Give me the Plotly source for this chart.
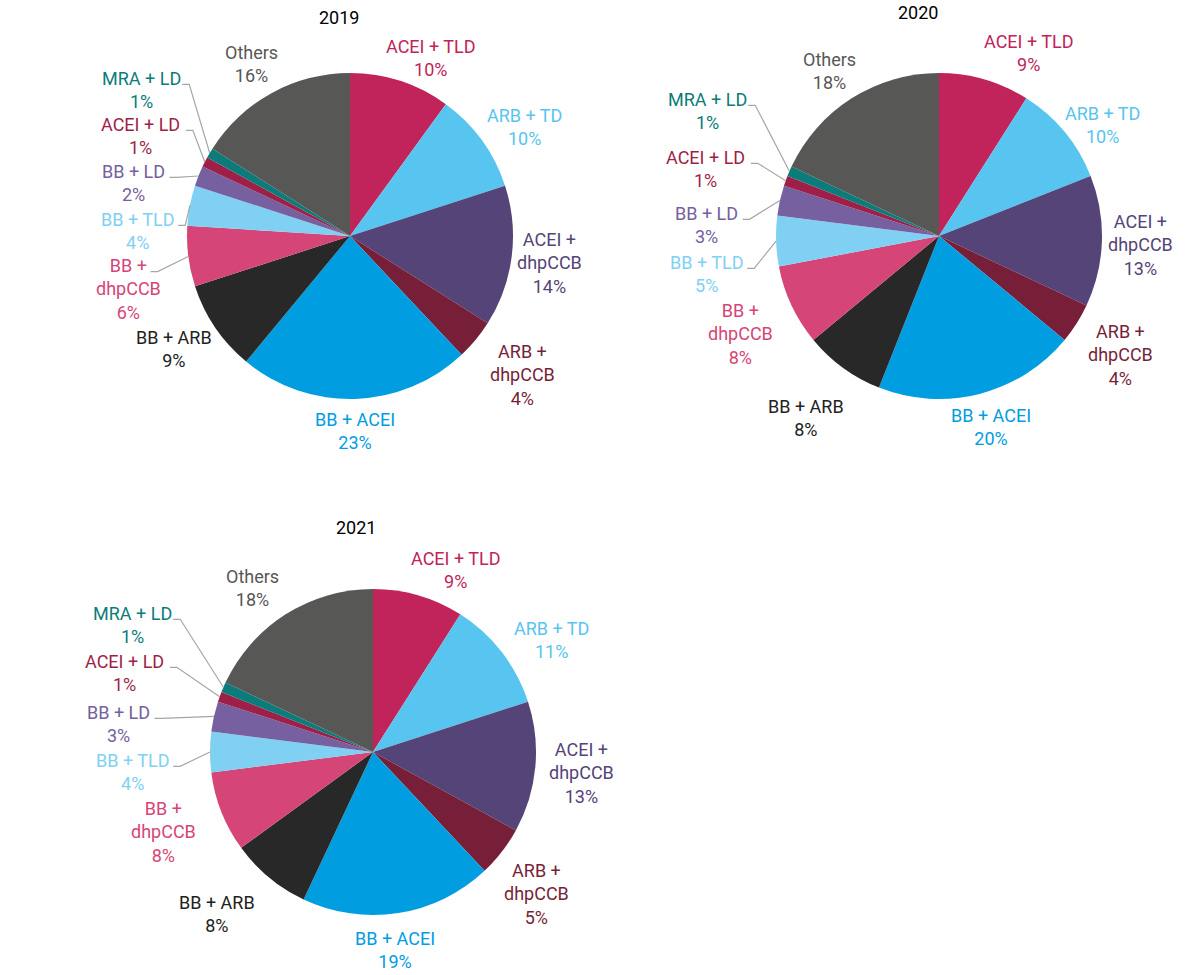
import math
import plotly.graph_objects as go

W, H = 1198, 975

# ---------------- data ----------------
categories = ["ACEI + TLD", "ARB + TD", "ACEI + dhpCCB", "ARB + dhpCCB", "BB + ACEI",
              "BB + ARB", "BB + dhpCCB", "BB + TLD", "BB + LD", "ACEI + LD", "MRA + LD", "Others"]
years = ["2019", "2020", "2021"]
values_2019 = [10, 10, 14, 4, 23, 9, 6, 4, 2, 1, 1, 16]
values_2020 = [9, 10, 13, 4, 20, 8, 8, 5, 3, 1, 1, 18]
values_2021 = [9, 11, 13, 5, 19, 8, 8, 4, 3, 1, 1, 18]
series = [values_2019, values_2020, values_2021]

# ---------------- style ----------------
slice_colors = ["#C0245A", "#58C4F0", "#554477", "#771F38", "#009EE0", "#282828",
                "#D64577", "#80D0F4", "#7660A0", "#9E1F47", "#0B7C7A", "#575756"]
text_colors = ["#C0245A", "#58C4F0", "#554477", "#771F38", "#009EE0", "#222222",
               "#D64577", "#80D0F4", "#7660A0", "#9E1F47", "#0B7C7A", "#575756"]
# label text split into lines
label_lines = {
    "ACEI + dhpCCB": ["ACEI +", "dhpCCB"],
    "ARB + dhpCCB": ["ARB +", "dhpCCB"],
    "BB + dhpCCB": ["BB +", "dhpCCB"],
}
FONT = "Roboto, 'Liberation Sans', Arial, sans-serif"
FS = 18
LINE_H = 1.3 * FS
CHAR_W = 9.3
LEADER = "#A6A6A6"

# pie geometry (pixels): centre x, centre y, radius
pie_geom = [(350, 236, 163), (939, 236, 163), (373, 752, 163)]
title_pos = [(339, 17), (918, 12), (356, 527)]

# label placement relative to pie centre (px), per pie, in category order
label_offsets = [
    [(81, -178), (174, -109), (199, 27), (172, 139), (5, 195), (-176, 113),
     (-222, 53), (-213, -5), (-217, -53), (-210, -100), (-209, -146), (-99, -172)],
    [(90, -183), (163, -111), (201, 9), (181, 119), (52, 191), (-133, 182),
     (-199, 98), (-233, 38), (-233, -11), (-234, -67), (-232, -125), (-110, -165)],
    [(83, -182), (178, -112), (208, 21), (163, 142), (22, 198), (-156, 162),
     (-210, 80), (-241, 20), (-255, -28), (-249, -79), (-241, -127), (-121, -164)],
]
# slices whose labels are joined to the pie by a leader line
leader_slices = [
    {"BB + dhpCCB", "BB + TLD", "BB + LD", "ACEI + LD", "MRA + LD"},
    {"BB + TLD", "BB + LD", "ACEI + LD", "MRA + LD"},
    {"BB + TLD", "BB + LD", "ACEI + LD", "MRA + LD"},
]


def px_to_paper(x, y):
    return x / W, 1 - y / H


fig = go.Figure()
annotations = []
shapes = []

for k, (year, vals) in enumerate(zip(years, series)):
    cx, cy, r = pie_geom[k]
    fig.add_trace(go.Pie(
        labels=categories, values=vals, sort=False, direction="clockwise", rotation=0,
        marker=dict(colors=slice_colors, line=dict(width=0)),
        textinfo="none", showlegend=False, hoverinfo="label+percent",
        domain=dict(x=[(cx - r) / W, (cx + r) / W], y=[1 - (cy + r) / H, 1 - (cy - r) / H]),
    ))
    tx, ty = px_to_paper(*title_pos[k])
    annotations.append(dict(x=tx, y=ty, xref="paper", yref="paper", text=year, showarrow=False,
                            xanchor="center", yanchor="middle",
                            font=dict(family=FONT, size=FS, color="#000000")))
    total = sum(vals)
    cum = 0
    for i, (cat, v) in enumerate(zip(categories, vals)):
        mid = 2 * math.pi * (cum + v / 2) / total
        cum += v
        pct = round(100 * v / total)
        lines = label_lines.get(cat, [cat]) + [f"{pct}%"]
        dx, dy = label_offsets[k][i]
        lxp, lyp = cx + dx, cy + dy
        lx, ly = px_to_paper(lxp, lyp)
        annotations.append(dict(x=lx, y=ly, xref="paper", yref="paper", text="<br>".join(lines),
                                showarrow=False, xanchor="center", yanchor="middle", align="center",
                                font=dict(family=FONT, size=FS, color=text_colors[i])))
        if cat in leader_slices[k]:
            first_y = lyp - (len(lines) - 1) * LINE_H / 2
            sx = lxp + len(lines[0]) * CHAR_W / 2 + 4
            sy = first_y + 6
            ex, ey = cx + r * math.sin(mid), cy - r * math.cos(mid)
            x0, y0 = px_to_paper(sx, sy)
            x1, y1 = px_to_paper(sx + 7, sy)
            x2, y2 = px_to_paper(ex, ey)
            shapes.append(dict(type="path", xref="paper", yref="paper",
                               path=f"M {x0} {y0} L {x1} {y1} L {x2} {y2}",
                               line=dict(color=LEADER, width=1.2)))

fig.update_layout(width=W, height=H, margin=dict(l=0, r=0, t=0, b=0),
                  paper_bgcolor="white", plot_bgcolor="white",
                  annotations=annotations, shapes=shapes)
fig.write_html("out.html")
